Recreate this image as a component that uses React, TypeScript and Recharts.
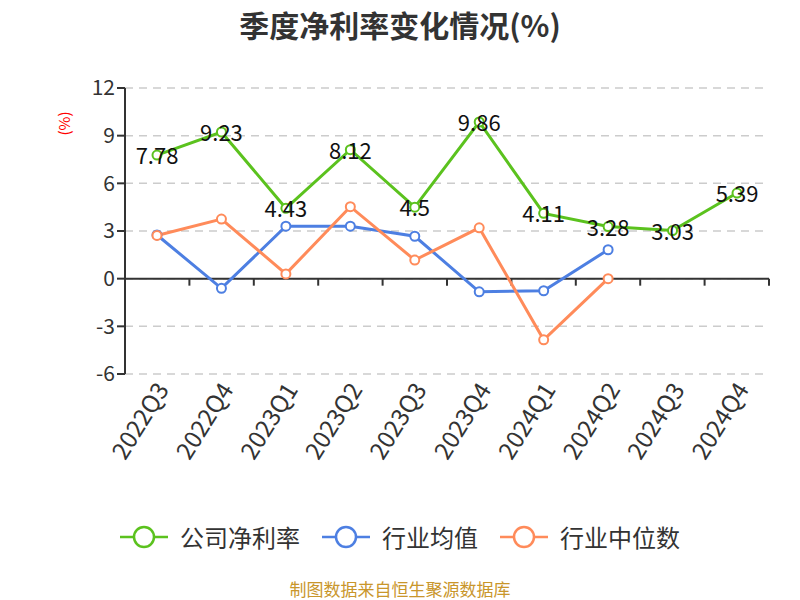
import { LineChart, Line, XAxis, YAxis, CartesianGrid, ReferenceLine, LabelList } from 'recharts'

const quarters = ['2022Q3', '2022Q4', '2023Q1', '2023Q2', '2023Q3', '2023Q4', '2024Q1', '2024Q2', '2024Q3', '2024Q4']
const companyRate = [7.78, 9.23, 4.43, 8.12, 4.5, 9.86, 4.11, 3.28, 3.03, 5.39]
const industryAvg = [2.75, -0.61, 3.3, 3.3, 2.67, -0.83, -0.76, 1.82, null, null]
const industryMedian = [2.72, 3.75, 0.3, 4.53, 1.17, 3.2, -3.85, 0, null, null]
const yTicks = [-6, -3, 0, 3, 6, 9, 12]

const series = [
  { key: 'company', name: '公司净利率', color: '#5bc21e' },
  { key: 'avg', name: '行业均值', color: '#4d7fe2' },
  { key: 'median', name: '行业中位数', color: '#ff8b5a' },
]

const data = quarters.map((q, i) => ({
  q,
  company: companyRate[i],
  avg: industryAvg[i],
  median: industryMedian[i],
}))

const FONT = '"Noto Sans CJK SC", "Noto Sans", sans-serif'

const XTick = ({ x, y, payload }: any) => (
  <text x={x + 4} y={y + 2} transform={`rotate(-58 ${x + 4} ${y + 2})`} textAnchor="end" dominantBaseline="central" fontSize={24} fill="#333" fontFamily={FONT}>
    {payload.value}
  </text>
)

// zero line with boundary ticks, like an axis crossing at 0
const ZeroAxis = (p: any) => {
  const { x1, x2, y1 } = p
  if (x1 == null) return null
  const step = (x2 - x1) / quarters.length
  return (
    <g>
      <line x1={x1} x2={x2} y1={y1} y2={y1} stroke="#333" strokeWidth={2} />
      {quarters.map((_, i) => (
        <line key={i} x1={x1 + step * (i + 1)} x2={x1 + step * (i + 1)} y1={y1} y2={y1 + 7} stroke="#333" strokeWidth={2} />
      ))}
    </g>
  )
}

const ValueLabel = ({ x, y, value }: any) => (
  <text x={x} y={y - 1} textAnchor="middle" dominantBaseline="central" fontSize={22} fill="#111" fontFamily={FONT}>
    {value}
  </text>
)

const LegendBox = () => (
  <div style={{ display: 'flex', justifyContent: 'center', gap: 22, fontSize: 24, color: '#333' }}>
    {series.map((s) => (
      <div key={s.key} style={{ display: 'flex', alignItems: 'center' }}>
        <svg width={48} height={26} style={{ marginRight: 12 }}>
          <line x1={0} x2={48} y1={13} y2={13} stroke={s.color} strokeWidth={2.5} />
          <circle cx={24} cy={13} r={10} fill="#fff" stroke={s.color} strokeWidth={2.5} />
        </svg>
        <span>{s.name}</span>
      </div>
    ))}
  </div>
)

export default function App() {
  return (
    <div style={{ position: 'absolute', left: 0, top: 0, width: 800, height: 600, background: '#fff', fontFamily: FONT }}>
      <div style={{ position: 'absolute', top: 2, width: 800, textAlign: 'center', fontSize: 30, fontWeight: 'bold', color: '#333' }}>
        季度净利率变化情况(%)
      </div>
      <div style={{ position: 'absolute', left: 52, top: 113, fontSize: 15, color: '#f00', transform: 'rotate(-90deg)', transformOrigin: 'center' }}>
        (%)
      </div>
      <div style={{ position: 'absolute', top: 519, left: 0, width: 800 }}>
        <LegendBox />
      </div>
      <div style={{ position: 'absolute', top: 576, width: 800, textAlign: 'center', fontSize: 17, color: '#c9962b' }}>
        制图数据来自恒生聚源数据库
      </div>
      <LineChart width={800} height={600} data={data} margin={{ top: 88, right: 31, left: 75, bottom: 126 }}>
        <CartesianGrid horizontal vertical={false} stroke="#ccc" strokeDasharray="8 6" strokeWidth={1.5} />
        <XAxis dataKey="q" axisLine={false} tickLine={false} interval={0} height={100} tick={<XTick />} padding={{ left: 32, right: 32 }} />
        <YAxis
          domain={[-6, 12]}
          ticks={yTicks}
          width={50}
          axisLine={{ stroke: '#333', strokeWidth: 2 }}
          tickLine={{ stroke: '#333', strokeWidth: 2 }}
          tickSize={8}
          tick={{ fontSize: 21, fill: '#333', fontFamily: FONT }}
          interval={0}
        />
        <ReferenceLine y={0} shape={<ZeroAxis />} />
        {series.map((s) => (
          <Line
            key={s.key}
            dataKey={s.key}
            name={s.name}
            stroke={s.color}
            strokeWidth={3}
            dot={{ r: 4.5, fill: '#fff', stroke: s.color, strokeWidth: 2 }}
            activeDot={false}
            isAnimationActive={false}
            connectNulls={false}
          >
            {s.key === 'company' && <LabelList dataKey="company" content={<ValueLabel />} />}
          </Line>
        ))}
      </LineChart>
    </div>
  )
}
